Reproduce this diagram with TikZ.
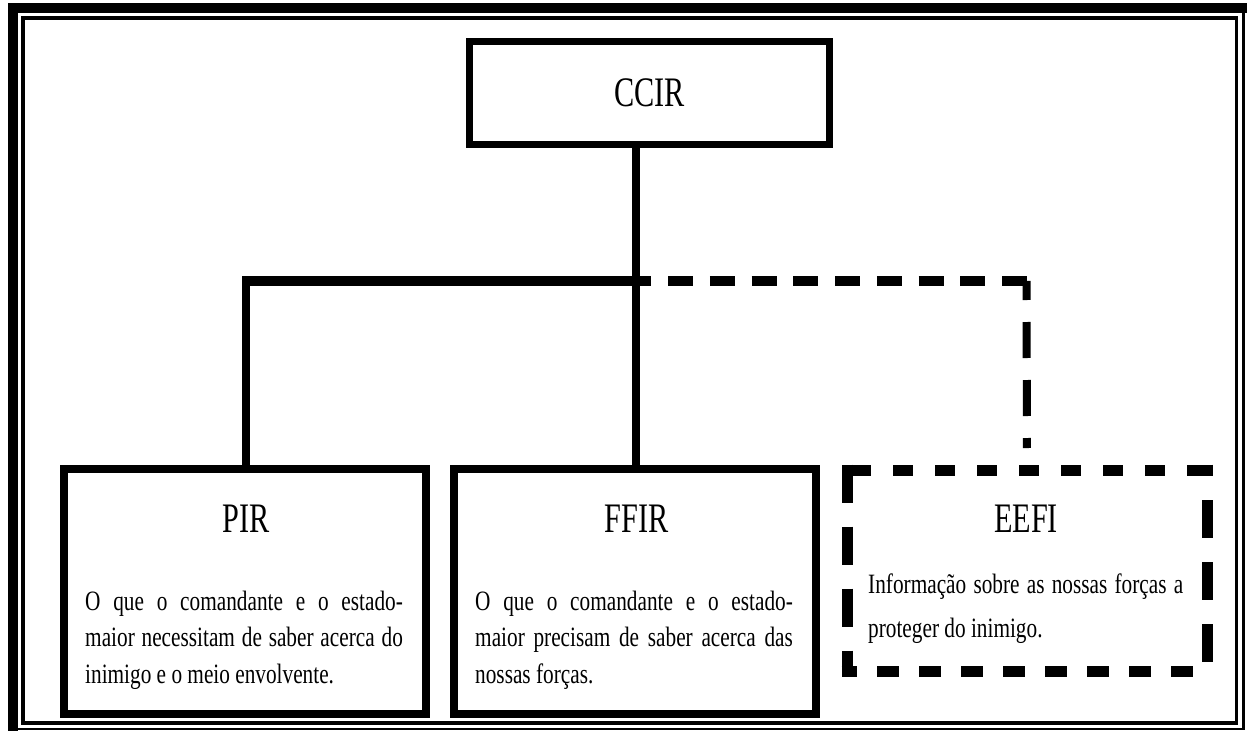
\documentclass[tikz,border=0pt]{standalone}
\usepackage{graphicx}
\usepackage{fontspec}
\setmainfont{Liberation Serif}
\usetikzlibrary{calc}
% horizontally condensed text
\newcommand\narrowtxt[2]{\scalebox{#1}[1]{#2}}
% one justified line of a paragraph
\newcommand\fullline[1]{\makebox[\linewidth][s]{#1}}
\begin{document}
\begin{tikzpicture}[x=1pt,y=-1pt,
  ccirbox/.style={draw, line width=7pt, inner sep=0pt, outer sep=0pt,
    minimum width=360pt, minimum height=103pt,
    font=\fontsize{42}{42}\selectfont},
  reqbox/.style={draw, line width=8pt, inner sep=0pt, outer sep=0pt,
    minimum width=362pt, minimum height=245pt},
  openbox/.style={inner sep=0pt, outer sep=0pt,
    minimum width=360pt, minimum height=201pt},
  title/.style={inner sep=0pt, font=\fontsize{42}{42}\selectfont},
  body/.style={inner sep=0pt, anchor=base west},
  link/.style={line width=8pt},
  hlink/.style={line width=10pt},
  hdash/.style={line width=11pt, dash pattern=on 20pt off 22pt},
  vdash/.style={line width=11pt, dash pattern=on 38pt off 24pt}]

\useasboundingbox (0,0) rectangle (1247,733);

% page frame: heavy outer rule and thin inner rule
\fill (8,3) rectangle (18,731);
\fill (8,3) rectangle (1247,13);
\fill (1242,13) rectangle (1245,730);
\fill (18,728) rectangle (1245,730);
\draw[line width=3.5pt] (23,18) rectangle (1236.5,723);

% boxes
\node[ccirbox] (ccir) at (649.5,93) {\narrowtxt{0.72}{CCIR}};
\node[reqbox] (pir) at (245,591.5) {};
\node[reqbox] (ffir) at (635,591.5) {};
\node[openbox] (eefi) at (1027,570.5) {};

% dashed border of the EEFI box
\draw[hdash, dash phase=32.5pt, shorten <=-5.5pt, shorten >=-5.5pt]
  (eefi.north west) -- (eefi.north east);
\draw[hdash, dash pattern=on 22pt off 20pt, dash phase=6.5pt,
  shorten <=-5.5pt, shorten >=-5.5pt]
  (eefi.south west) -- (eefi.south east);
\draw[vdash, shorten <=-5.5pt, shorten >=-5.5pt]
  (eefi.north west) -- (eefi.south west);
\draw[vdash, dash phase=26.5pt, shorten <=-5.5pt, shorten >=-5.5pt]
  (eefi.north east) -- (eefi.south east);

% titles
\node[title] (pirt) at (246,519) {\narrowtxt{0.72}{PIR}};
\node[title] (ffirt) at (636.5,519) {\narrowtxt{0.72}{FFIR}};
\node[title] (eefit) at (1026,519) {\narrowtxt{0.72}{EEFI}};

% descriptions
\node[body] (pirb) at (85,610) {\narrowtxt{0.76}{\parbox[t]{418pt}{%
  \fontsize{28}{36.5}\selectfont
  \fullline{O que o comandante e o estado-}\\
  \fullline{maior necessitam de saber acerca do}\\
  inimigo e o meio envolvente.}}};
\node[body] (ffirb) at (475,610) {\narrowtxt{0.76}{\parbox[t]{418pt}{%
  \fontsize{28}{36.5}\selectfont
  \fullline{O que o comandante e o estado-}\\
  \fullline{maior precisam de saber acerca das}\\
  nossas forças.}}};
\node[body] (eefib) at (868,593) {\narrowtxt{0.76}{\parbox[t]{414.5pt}{%
  \fontsize{28}{44}\selectfont
  \fullline{Informação sobre as nossas forças a}\\
  proteger do inimigo.}}};

% connectors
\coordinate (j) at (636,281);
\coordinate (jl) at (246,281);
\coordinate (jr) at (1026.5,281);
\draw[link] (j |- ccir.south) -- (j |- ffir.north);
\draw[link] (jl) -- (jl |- pir.north);
\draw[hlink, shorten <=-4pt] (jl) -- (j);
\draw[hlink, dash pattern=on 25pt off 16.75pt, dash phase=9.75pt,
  shorten >=-3.5pt] (j) -- (jr);
\draw[link, dash pattern=on 36pt off 22pt, dash phase=17pt,
  shorten >=22pt] (jr) -- (eefi.north);
\end{tikzpicture}
\end{document}
